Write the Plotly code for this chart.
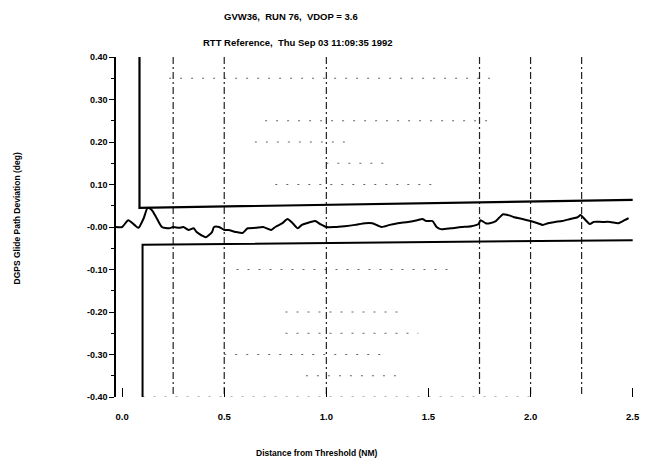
import plotly.graph_objects as go

# deviation trace (Distance NM, deviation deg)
dist = [-0.03, 0.0, 0.03, 0.06, 0.08, 0.105, 0.125, 0.145, 0.17, 0.195, 0.23, 0.25, 0.28, 0.30,
        0.325, 0.35, 0.365, 0.39, 0.41, 0.44, 0.45, 0.475, 0.5, 0.52, 0.56, 0.59, 0.615, 0.655,
        0.69, 0.73, 0.75, 0.785, 0.81, 0.835, 0.86, 0.88, 0.905, 0.945, 0.97, 1.0, 1.04, 1.09,
        1.14, 1.19, 1.225, 1.27, 1.31, 1.35, 1.40, 1.445, 1.47, 1.49, 1.52, 1.54, 1.56, 1.61,
        1.66, 1.71, 1.745, 1.755, 1.78, 1.80, 1.83, 1.845, 1.865, 1.89, 1.92, 1.96, 2.0, 2.035,
        2.06, 2.085, 2.12, 2.155, 2.195, 2.23, 2.245, 2.26, 2.29, 2.31, 2.35, 2.39, 2.43, 2.46, 2.48]
deviation = [0.0, 0.0, 0.016, 0.005, -0.002, 0.02, 0.045, 0.04, 0.02, 0.0, -0.003, 0.0, -0.002, 0.0,
             -0.007, -0.003, -0.012, -0.02, -0.024, -0.012, 0.0, 0.0, -0.007, -0.007, -0.012, -0.014,
             -0.003, -0.002, 0.0, -0.007, 0.0, 0.009, 0.019, 0.009, -0.003, 0.005, 0.009, 0.014, 0.007,
             0.0, 0.0, 0.002, 0.005, 0.009, 0.009, 0.0, 0.005, 0.009, 0.012, 0.016, 0.019, 0.014, 0.014,
             0.0, -0.005, -0.003, 0.0, 0.002, 0.007, 0.016, 0.009, 0.009, 0.014, 0.021, 0.03, 0.028,
             0.023, 0.019, 0.014, 0.009, 0.005, 0.009, 0.012, 0.014, 0.019, 0.023, 0.028, 0.021, 0.007,
             0.012, 0.012, 0.012, 0.009, 0.016, 0.021]

# tolerance envelope
upper_x = [0.085, 0.085, 2.5]
upper_y = [0.40, 0.045, 0.064]
lower_x = [0.10, 0.10, 2.5]
lower_y = [-0.40, -0.042, -0.031]

# vertical dash-dot reference lines
vgrid_x = [0.25, 0.5, 1.0, 1.75, 2.0, 2.25]
# faint horizontal dotted lines (level, start, end)
hgrid_y = [0.35, 0.25, 0.20, 0.15, 0.10, -0.10, -0.20, -0.25, -0.30, -0.35, -0.40]
hgrid_x0 = [0.23, 0.70, 0.65, 1.00, 0.75, 0.56, 0.80, 0.80, 0.50, 0.90, 0.10]
hgrid_x1 = [1.84, 1.80, 1.10, 1.30, 1.55, 1.62, 1.35, 1.45, 1.30, 1.35, 2.00]

ytick_vals = [0.40, 0.30, 0.20, 0.10, 0.0, -0.10, -0.20, -0.30, -0.40]
ytick_text = ["0.40", "0.30", "0.20", "0.10", "-0.00", "-0.10", "-0.20", "-0.30", "-0.40"]
xtick_vals = [0.0, 0.5, 1.0, 1.5, 2.0, 2.5]
xtick_text = ["0.0", "0.5", "1.0", "1.5", "2.0", "2.5"]

title1 = "GVW36,  RUN 76,  VDOP = 3.6"
title2 = "RTT Reference,  Thu Sep 03 11:09:35 1992"
ytitle = "DGPS Glide Path Deviation (deg)"
xtitle = "Distance from Threshold (NM)"

FONT = "Liberation Sans"

fig = go.Figure()

for y, x0, x1 in zip(hgrid_y, hgrid_x0, hgrid_x1):
    fig.add_trace(go.Scatter(x=[x0, x1], y=[y, y], mode="lines",
                             line=dict(color="#666", width=1, dash="2px,9px"),
                             hoverinfo="skip", showlegend=False))
for x in vgrid_x:
    fig.add_trace(go.Scatter(x=[x, x], y=[0.40, -0.40], mode="lines",
                             line=dict(color="#222", width=1.2, dash="7px,3px,2px,3px"),
                             hoverinfo="skip", showlegend=False))

fig.add_trace(go.Scatter(x=upper_x, y=upper_y, mode="lines",
                         line=dict(color="black", width=2.2), showlegend=False))
fig.add_trace(go.Scatter(x=lower_x, y=lower_y, mode="lines",
                         line=dict(color="black", width=2), showlegend=False))
fig.add_trace(go.Scatter(x=dist, y=deviation, mode="lines",
                         line=dict(color="black", width=2, shape="spline", smoothing=0.6),
                         showlegend=False))

fig.update_layout(
    width=648, height=465,
    margin=dict(l=116, r=8, t=57, b=68),
    paper_bgcolor="white", plot_bgcolor="white",
    font=dict(family=FONT, color="black", size=9),
    xaxis=dict(range=[-0.03, 2.526], showgrid=False, zeroline=False, showline=False,
               tickvals=xtick_vals, ticktext=xtick_text, ticks="inside", ticklen=9,
               tickcolor="black", tickwidth=1.2, ticklabelstandoff=12,
               tickfont=dict(family=FONT, size=9.5, weight="bold")),
    yaxis=dict(range=[-0.40, 0.40], showgrid=False, zeroline=False, showline=True,
               linecolor="black", linewidth=1.5,
               tickvals=ytick_vals, ticktext=ytick_text, ticks="outside", ticklen=5,
               tickcolor="black", tickwidth=1.2,
               minor=dict(tickvals=[0.35, 0.25, 0.15, 0.05, -0.05, -0.15, -0.25, -0.35],
                          ticks="outside", ticklen=3, tickcolor="black"),
               tickfont=dict(family=FONT, size=9, weight="bold")),
    annotations=[
        dict(text=title1, xref="paper", yref="paper", x=0.336, y=1.12, showarrow=False,
             font=dict(family=FONT, size=9.5, weight="bold"), xanchor="center", yanchor="middle"),
        dict(text=title2, xref="paper", yref="paper", x=0.349, y=1.044, showarrow=False,
             font=dict(family=FONT, size=9.5, weight="bold"), xanchor="center", yanchor="middle"),
        dict(text=ytitle, xref="paper", yref="paper", x=-0.189, y=0.526, showarrow=False,
             textangle=-90, font=dict(family=FONT, size=8.5, weight="bold"),
             xanchor="center", yanchor="middle"),
        dict(text=xtitle, xref="paper", yref="paper", x=0.385, y=-0.165, showarrow=False,
             font=dict(family=FONT, size=8.5, weight="bold"), xanchor="center", yanchor="middle"),
    ],
)

fig.write_html("out.html")
